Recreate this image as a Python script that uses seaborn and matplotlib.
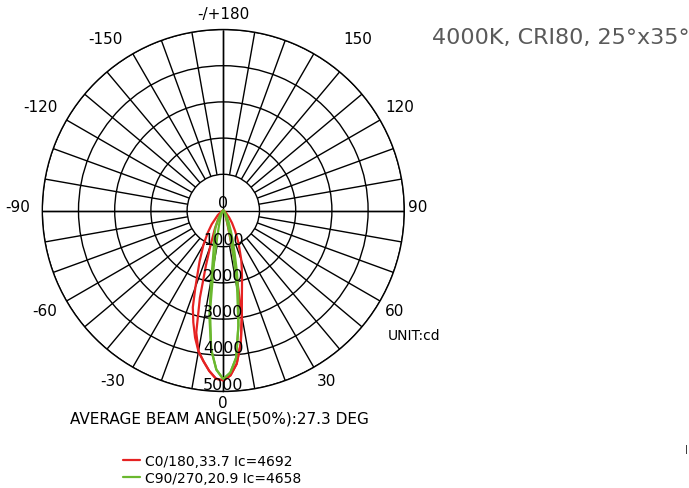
import numpy as np
import matplotlib
matplotlib.use("Agg")
import matplotlib.pyplot as plt
import seaborn as sns

# polar grid of gamma angles (deg), 0 = straight down, positive to the right
gamma = [-90, -60, -50, -40, -35, -30, -25, -20, -17.5, -15, -12.5, -10, -7.5, -5, -2.5,
         0, 2.5, 5, 7.5, 10, 12.5, 15, 17.5, 20, 25, 30, 35, 40, 50, 60, 90]

# C0/180 plane (cd), outer and inner trace
c0_outer = [0, 60, 200, 500, 750, 1100, 1550, 2250, 2800, 3200, 3600, 3950, 4200, 4450, 4650,
            4692, 4560, 4250, 3700, 2950, 2375, 2000, 1700, 1450, 1000, 650, 420, 250, 90, 30, 0]
c0_inner = [0, 20, 40, 100, 160, 300, 550, 1050, 1600, 2500, 3450, 3950, 4200, 4450, 4650,
            4692, 4560, 4250, 3700, 2950, 1500, 600, 350, 220, 130, 80, 50, 30, 10, 0, 0]

# C90/270 plane (cd), outer and inner trace
c90_outer = [0, 20, 40, 80, 150, 260, 500, 720, 850, 1000, 1300, 1900, 2950, 3850, 4400,
             4658, 4480, 4080, 3200, 2400, 1750, 1200, 850, 620, 340, 190, 110, 60, 20, 5, 0]
c90_inner = [0, 5, 10, 20, 40, 70, 130, 250, 350, 500, 800, 1500, 2800, 3850, 4400,
             4658, 4480, 4080, 3200, 2200, 1300, 700, 400, 250, 120, 60, 30, 15, 5, 0, 0]

ring_values = [1000, 2000, 3000, 4000, 5000]
angle_labels = ["-/+180", "150", "-150", "120", "-120", "90", "-90", "60", "-60", "30", "-30", "0"]
legend_labels = ["C0/180,33.7 Ic=4692", "C90/270,20.9 Ic=4658"]

RED = "#e52222"
GREEN = "#6ab82e"
W, H = 689, 489

sns.set_style("white")
plt.rcParams["text.color"] = "black"
fig = plt.figure(figsize=(W / 100, H / 100), dpi=100)


def px(x, y):
    return x / W, 1 - y / H


cx, cy, R = 223.3, 211.5, 181
ax = fig.add_axes([(cx - R) / W, 1 - (cy + R) / H, 2 * R / W, 2 * R / H], projection="polar")
ax.set_theta_zero_location("S")
ax.set_theta_direction(1)
ax.set_ylim(0, 5000)
ax.set_yticks(ring_values)
ax.set_yticklabels([])
ax.set_xticks([])
ax.yaxis.grid(True, color="black", lw=1)
ax.xaxis.grid(False)
ax.spines["polar"].set_color("black")
ax.spines["polar"].set_linewidth(1)

# spokes every 10 deg from the inner ring, main axes through the centre
spokes = np.deg2rad(np.arange(0, 360, 10))
ax.vlines(spokes, 1000, 5000, color="black", lw=1)
ax.vlines(np.deg2rad([0, 90, 180, 270]), 0, 5000, color="black", lw=1)

th = np.deg2rad(gamma)
kw = dict(ax=ax, sort=False, estimator=None, lw=1.6, solid_joinstyle="round")
sns.lineplot(x=th, y=c0_inner, color=RED, **kw)
sns.lineplot(x=th, y=c90_inner, color=GREEN, **kw)
sns.lineplot(x=th, y=c0_outer, color=RED, label=legend_labels[0], **kw)
sns.lineplot(x=th, y=c90_outer, color=GREEN, label=legend_labels[1], **kw)

# intensity labels down the 0 axis
for v in [0] + ring_values:
    ax.text(0, v, str(v), ha="center", va="bottom", fontsize=11.5, color="black")

# angle labels round the rim
label_pos = [(223, 15), (358, 40), (105, 40), (400, 108), (40, 108), (418, 207), (18, 207),
             (395, 312), (45, 312), (326, 381), (113, 381), (223, 404)]
for lab, (x, y) in zip(angle_labels, label_pos):
    fig.text(*px(x, y), lab, ha="center", va="center", fontsize=11)

fig.text(*px(432, 38), "4000K, CRI80, 25°x35°", ha="left", va="center", fontsize=16,
         color="#5a5a5a")
fig.text(*px(388, 336), "UNIT:cd", ha="left", va="center", fontsize=10)
fig.text(*px(70, 419), "AVERAGE BEAM ANGLE(50%):27.3 DEG", ha="left", va="center", fontsize=11)
fig.text(*px(686, 450), "|", ha="center", va="center", fontsize=6)

ax.legend(loc="upper left", bbox_to_anchor=px(123, 455), bbox_transform=fig.transFigure,
          frameon=False, fontsize=10, handlelength=1.25, handletextpad=0.3,
          labelspacing=0.2, borderpad=0, borderaxespad=0)

fig.savefig("out.png", dpi=100)
